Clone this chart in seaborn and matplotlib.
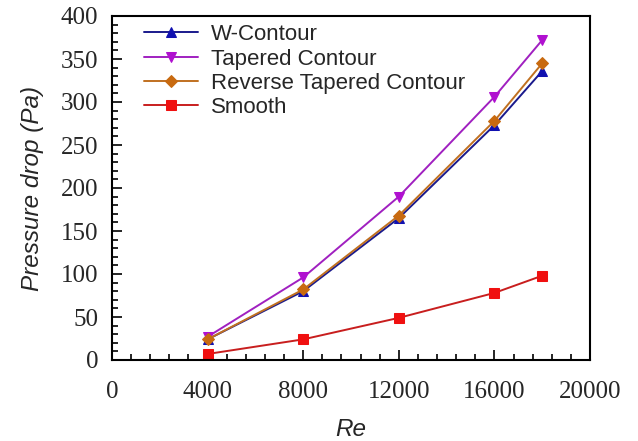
import matplotlib
matplotlib.use("Agg")
import matplotlib.pyplot as plt
import seaborn as sns
import pandas as pd
from matplotlib.ticker import MultipleLocator

re_values = [4000, 8000, 12000, 16000, 18000]
w_contour = [24, 80, 165, 273, 336]
tapered = [27, 96, 190, 306, 372]
reverse_tapered = [24, 82, 168, 278, 345]
smooth = [7, 24, 49, 78, 98]
series_names = ["W-Contour", "Tapered Contour", "Reverse Tapered Contour", "Smooth"]

sns.set_style("white")
plt.rcParams['font.family'] = ['Liberation Sans', 'DejaVu Sans']

rows = []
for name, vals in zip(series_names, [w_contour, tapered, reverse_tapered, smooth]):
    for x, y in zip(re_values, vals):
        rows.append({"Re": x, "dp": y, "series": name})
df = pd.DataFrame(rows)

line_colors = {"W-Contour": "#1a1a8c", "Tapered Contour": "#a020c0",
               "Reverse Tapered Contour": "#c07020", "Smooth": "#c81e1e"}
face_colors = {"W-Contour": "#1010b0", "Tapered Contour": "#b010d0",
               "Reverse Tapered Contour": "#c86a10", "Smooth": "#f01010"}
markers = {"W-Contour": "^", "Tapered Contour": "v",
           "Reverse Tapered Contour": "D", "Smooth": "s"}
msize = {"W-Contour": 7, "Tapered Contour": 7, "Reverse Tapered Contour": 6.5, "Smooth": 7.5}

fig = plt.figure(figsize=(6.38, 4.41), dpi=100)
ax = fig.add_axes([112/638, 81/441, 478/638, 344/441])

for name in series_names:
    sub = df[df["series"] == name]
    sns.lineplot(data=sub, x="Re", y="dp", ax=ax, color=line_colors[name],
                 marker=markers[name], markersize=msize[name],
                 markerfacecolor=face_colors[name], markeredgecolor=face_colors[name],
                 linewidth=1.4, label=name)

ax.set_xlim(0, 20000)
ax.set_ylim(0, 400)
ax.xaxis.set_major_locator(MultipleLocator(4000))
ax.xaxis.set_minor_locator(MultipleLocator(800))
ax.yaxis.set_major_locator(MultipleLocator(50))
ax.yaxis.set_minor_locator(MultipleLocator(10))
ax.tick_params(which='both', direction='in', top=False, right=False, left=True, bottom=True, width=1.2, color='black')
ax.tick_params(which='major', length=7)
ax.tick_params(which='minor', length=4)
for lab in ax.get_xticklabels() + ax.get_yticklabels():
    lab.set_fontfamily('Liberation Serif')
    lab.set_fontsize(18)
ax.tick_params(axis='x', pad=15)
ax.tick_params(axis='y', pad=10)
for sp in ax.spines.values():
    sp.set_visible(True)
    sp.set_color('black')
    sp.set_linewidth(1.5)

ax.set_xlabel("Re", fontsize=17.5, style='italic', labelpad=11)
ax.set_ylabel("Pressure drop (Pa)", fontsize=17.5, style='italic', labelpad=12)

leg = ax.legend(loc='upper left', frameon=False, fontsize=16, handlelength=2.4,
                labelspacing=0.15, borderaxespad=0.2, bbox_to_anchor=(0.04, 1.015),
                handletextpad=0.6)

fig.savefig("out.png", dpi=100)
